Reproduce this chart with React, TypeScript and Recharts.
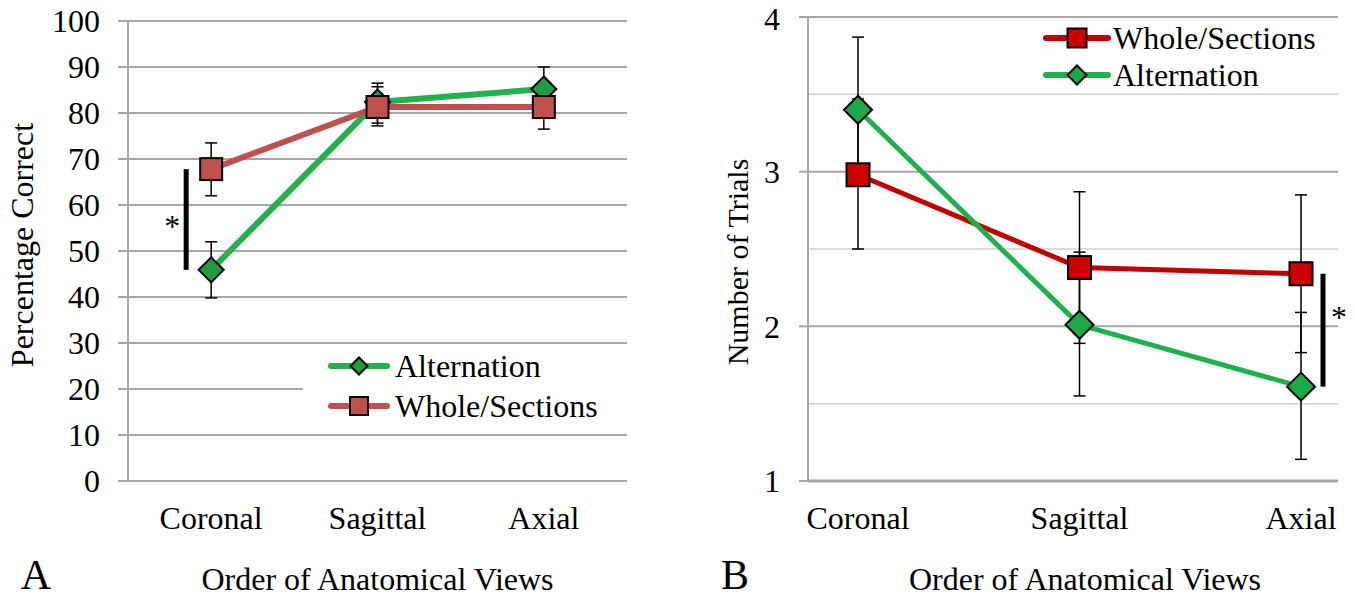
import { CartesianGrid, ErrorBar, Legend, Line, LineChart, ReferenceLine, XAxis, YAxis } from "recharts"

const FONT = '"Liberation Serif", "Times New Roman", Times, serif'
const GRID = "#a6a6a6"
const MINOR = "#cfcfcf"

const views = ["Coronal", "Sagittal", "Axial"]

// A: percentage correct (mean, lower and upper end of each error bar)
const altPct = [45.9, 82.4, 85.2]
const altPctLow = [39.8, 77.8, 80.4]
const altPctHigh = [52.0, 86.5, 90.0]
const wholePct = [67.8, 81.3, 81.3]
const wholePctLow = [62.0, 77.2, 76.5]
const wholePctHigh = [73.5, 85.7, 86.1]
const pctTicks = [0, 10, 20, 30, 40, 50, 60, 70, 80, 90, 100]
const viewEdges = [0, 1, 2, 3]

// B: number of trials
const wholeTrials = [2.98, 2.38, 2.34]
const wholeTrialsLow = [2.5, 1.89, 1.83]
const wholeTrialsHigh = [3.47, 2.87, 2.85]
const altTrials = [3.4, 2.01, 1.61]
const altTrialsLow = [2.95, 1.55, 1.14]
const altTrialsHigh = [3.87, 2.48, 2.09]
const trialTicks = [1, 2, 3, 4]
const trialMinor = [1.5, 2.5, 3.5]

const err = (mean: number[], low: number[], high: number[], i: number) => [mean[i] - low[i], high[i] - mean[i]]

const pctData = views.map((view, i) => ({
  view,
  alt: altPct[i],
  altErr: err(altPct, altPctLow, altPctHigh, i),
  whole: wholePct[i],
  wholeErr: err(wholePct, wholePctLow, wholePctHigh, i),
}))

const trialData = views.map((view, i) => ({
  view,
  alt: altTrials[i],
  altErr: err(altTrials, altTrialsLow, altTrialsHigh, i),
  whole: wholeTrials[i],
  wholeErr: err(wholeTrials, wholeTrialsLow, wholeTrialsHigh, i),
}))

type Kind = "diamond" | "square"

function MarkerShape({ kind, cx, cy, size, fill }: { kind: Kind; cx: number; cy: number; size: number; fill: string }) {
  if (kind === "diamond") {
    const r = size / 2
    return (
      <path
        d={`M${cx},${cy - r}L${cx + r},${cy}L${cx},${cy + r}L${cx - r},${cy}Z`}
        fill={fill}
        stroke="#000"
        strokeWidth={2}
      />
    )
  }
  return (
    <rect x={cx - size / 2} y={cy - size / 2} width={size} height={size} fill={fill} stroke="#000" strokeWidth={2} />
  )
}

const markerDot = (kind: Kind, size: number, fill: string) => (p: any) => {
  if (p.cx == null || p.cy == null) return <g key={p.index} />
  return (
    <g key={p.index}>
      <MarkerShape kind={kind} cx={p.cx} cy={p.cy} size={size} fill={fill} />
    </g>
  )
}

interface LegendStyle {
  width: number
  height: number
  rows: number[]
  lineX: [number, number]
  textX: number
  order: string[]
  markers: Record<string, { kind: Kind; size: number; fill: string }>
}

const legendContent = (st: LegendStyle) => (props: any) => {
  const payload = [...(props.payload || [])].sort(
    (a: any, b: any) => st.order.indexOf(a.dataKey) - st.order.indexOf(b.dataKey)
  )
  return (
    <svg width={st.width} height={st.height} style={{ display: "block" }}>
      {payload.map((entry: any, i: number) => {
        const y = st.rows[i]
        const m = st.markers[entry.dataKey]
        const mx = (st.lineX[0] + st.lineX[1]) / 2
        return (
          <g key={entry.value}>
            <line x1={st.lineX[0]} y1={y} x2={st.lineX[1]} y2={y} stroke={entry.color} strokeWidth={6} strokeLinecap="round" />
            <MarkerShape kind={m.kind} cx={mx} cy={y} size={m.size} fill={m.fill} />
            <text x={st.textX} y={y + 11} fontSize={32} fontFamily={FONT} fill="#000">
              {entry.value}
            </text>
          </g>
        )
      })}
    </svg>
  )
}

const sigBar = (dx: number, starDx: number, starDy: number) => (p: any) => {
  const x = p.x1 + dx
  const mid = (p.y1 + p.y2) / 2
  return (
    <g>
      <line x1={x} y1={p.y1} x2={x} y2={p.y2} stroke="#000" strokeWidth={5} />
      <text x={x + starDx} y={mid + starDy} textAnchor="middle" fontSize={32} fontFamily={FONT} fill="#000">
        *
      </text>
    </g>
  )
}

const tickStyle = { fill: "#000", fontSize: 32, fontFamily: FONT }

const xTitle = (letter: string, letterDx: number, titleDx: number) => (p: any) => {
  const vb = p.viewBox || {}
  const cx = vb.x + vb.width / 2
  return (
    <g>
      <text x={cx + titleDx} y={vb.y + 109} textAnchor="middle" fontSize={32} fontFamily={FONT} fill="#000">
        Order of Anatomical Views
      </text>
      <text x={vb.x + letterDx} y={vb.y + 108} textAnchor="middle" fontSize={42} fontFamily={FONT} fill="#000">
        {letter}
      </text>
    </g>
  )
}

const yTitle = (text: string, dx: number, dy: number, size: number) => (p: any) => {
  const vb = p.viewBox || {}
  const x = vb.x + dx
  const y = vb.y + vb.height / 2 + dy
  return (
    <text x={x} y={y} transform={`rotate(-90, ${x}, ${y})`} textAnchor="middle" fontSize={size} fontFamily={FONT} fill="#000">
      {text}
    </text>
  )
}

function PanelA() {
  return (
    <LineChart width={660} height={599} data={pctData} margin={{ top: 21, right: 33, bottom: 0, left: 58 }}>
      <CartesianGrid xAxisId="views" vertical={false} stroke={GRID} strokeWidth={2} />
      <XAxis
        xAxisId="edge"
        type="number"
        domain={[0, 3]}
        ticks={viewEdges}
        allowDataOverflow
        height={0}
        axisLine={false}
        tickSize={9}
        tickLine={{ stroke: GRID, strokeWidth: 2 }}
        tickFormatter={() => ""}
      />
      <XAxis
        xAxisId="views"
        dataKey="view"
        scale="band"
        height={118}
        axisLine={{ stroke: GRID, strokeWidth: 2 }}
        tickLine={false}
        tickSize={0}
        tickMargin={25}
        tick={tickStyle}
        label={xTitle("A", -92, 0)}
      />
      <YAxis
        domain={[0, 100]}
        ticks={pctTicks}
        width={70}
        axisLine={{ stroke: GRID, strokeWidth: 2 }}
        tickLine={{ stroke: GRID, strokeWidth: 2 }}
        tickSize={10}
        tickMargin={18}
        tick={tickStyle}
        label={yTitle("Percentage Correct", -25, -6, 32)}
      />
      <Line
        xAxisId="views"
        dataKey="alt"
        name="Alternation"
        type="linear"
        stroke="#22b14c"
        strokeWidth={6}
        dot={markerDot("diamond", 25, "#1e9e40")}
        activeDot={false}
        isAnimationActive={false}
      >
        <ErrorBar dataKey="altErr" width={6} stroke="#000" strokeWidth={1.5} isAnimationActive={false} />
      </Line>
      <Line
        xAxisId="views"
        dataKey="whole"
        name="Whole/Sections"
        type="linear"
        stroke="#c0504d"
        strokeWidth={6}
        dot={markerDot("square", 22, "#c0504d")}
        activeDot={false}
        isAnimationActive={false}
      >
        <ErrorBar dataKey="wholeErr" width={6} stroke="#000" strokeWidth={1.5} isAnimationActive={false} />
      </Line>
      <ReferenceLine
        xAxisId="views"
        segment={[
          { x: views[0], y: altPct[0] },
          { x: views[0], y: wholePct[0] },
        ]}
        shape={sigBar(-25, -14, 18)}
      />
      <Legend
        layout="horizontal"
        verticalAlign="middle"
        align="center"
        wrapperStyle={{ left: 303, top: 346, width: 324, height: 84, background: "#fff" }}
        content={legendContent({
          width: 324,
          height: 84,
          rows: [20, 60],
          lineX: [28, 84],
          textX: 92,
          order: ["alt", "whole"],
          markers: {
            alt: { kind: "diamond", size: 17, fill: "#1e9e40" },
            whole: { kind: "square", size: 18, fill: "#c0504d" },
          },
        })}
      />
    </LineChart>
  )
}

function PanelB() {
  return (
    <LineChart width={675} height={599} data={trialData} margin={{ top: 17, right: 17, bottom: 0, left: 58 }}>
      <CartesianGrid vertical={false} horizontalValues={trialMinor} stroke={MINOR} strokeWidth={1.5} />
      <CartesianGrid vertical={false} stroke={GRID} strokeWidth={2} />
      <XAxis
        dataKey="view"
        scale="point"
        padding={{ left: 50, right: 37 }}
        height={118}
        axisLine={{ stroke: GRID, strokeWidth: 3 }}
        tickLine={false}
        tickSize={0}
        tickMargin={25}
        tick={tickStyle}
        label={xTitle("B", -73, 12)}
      />
      <YAxis
        domain={[1, 4]}
        ticks={trialTicks}
        width={70}
        axisLine={{ stroke: GRID, strokeWidth: 2 }}
        tickLine={{ stroke: GRID, strokeWidth: 2 }}
        tickSize={9}
        tickMargin={19}
        tick={tickStyle}
        label={yTitle("Number of Trials", 10, 13, 30)}
      />
      <Line
        dataKey="whole"
        name="Whole/Sections"
        type="linear"
        stroke="#c00000"
        strokeWidth={5}
        dot={markerDot("square", 23, "#cc0000")}
        activeDot={false}
        isAnimationActive={false}
      >
        <ErrorBar dataKey="wholeErr" width={6} stroke="#000" strokeWidth={1.5} isAnimationActive={false} />
      </Line>
      <Line
        dataKey="alt"
        name="Alternation"
        type="linear"
        stroke="#1db14b"
        strokeWidth={5}
        dot={markerDot("diamond", 28, "#1aab48")}
        activeDot={false}
        isAnimationActive={false}
      >
        <ErrorBar dataKey="altErr" width={6} stroke="#000" strokeWidth={1.5} isAnimationActive={false} />
      </Line>
      <ReferenceLine
        segment={[
          { x: views[2], y: wholeTrials[2] },
          { x: views[2], y: altTrials[2] },
        ]}
        shape={sigBar(22, 16, -2)}
      />
      <Legend
        layout="horizontal"
        verticalAlign="middle"
        align="center"
        wrapperStyle={{ left: 362, top: 19, width: 300, height: 74 }}
        content={legendContent({
          width: 300,
          height: 74,
          rows: [19, 56],
          lineX: [4, 66],
          textX: 71,
          order: ["whole", "alt"],
          markers: {
            whole: { kind: "square", size: 19, fill: "#cc0000" },
            alt: { kind: "diamond", size: 19, fill: "#1aab48" },
          },
        })}
      />
    </LineChart>
  )
}

export default function App() {
  return (
    <div style={{ position: "absolute", left: 0, top: 0, width: 1355, height: 599, background: "#fff", fontFamily: FONT }}>
      <div style={{ position: "absolute", left: 0, top: 0 }}>
        <PanelA />
      </div>
      <div style={{ position: "absolute", left: 680, top: 0 }}>
        <PanelB />
      </div>
    </div>
  )
}
